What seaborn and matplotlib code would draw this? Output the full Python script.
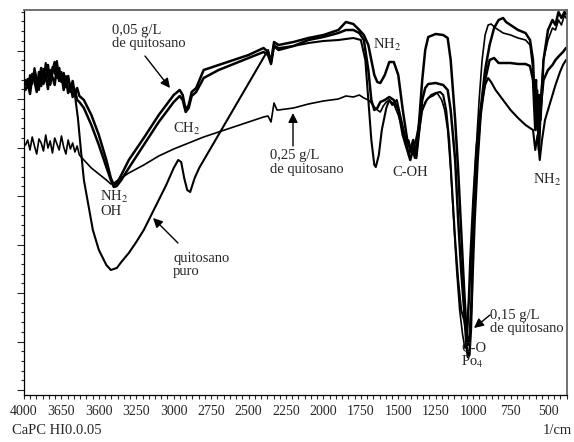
import pandas as pd
import matplotlib
matplotlib.use("Agg")
import matplotlib.pyplot as plt
import seaborn as sns
from matplotlib.ticker import MultipleLocator, AutoMinorLocator

sns.set_style("ticks")
plt.rcParams["font.family"] = ["Liberation Serif", "DejaVu Serif"]
plt.rcParams["mathtext.fontset"] = "stix"

# espectros FTIR (numero de onda en 1/cm, transmitancia en u.a.)
wn_005 = [3990, 3975, 3960, 3945, 3930, 3915, 3900, 3885, 3870, 3855, 3840, 3825, 3810, 3795, 3780, 3765,
          3750, 3735, 3720, 3705, 3690, 3675, 3660, 3645, 3630, 3600, 3550, 3500,
          3450, 3420, 3400, 3380, 3350, 3300, 3200, 3100, 3000, 2960, 2940, 2920, 2900, 2880, 2850, 2800,
          2700, 2600, 2500, 2400, 2370, 2350, 2330, 2300, 2200, 2100, 2000, 1900, 1850, 1800, 1760, 1730,
          1700, 1680, 1660, 1640, 1620, 1590, 1560, 1530, 1500, 1470, 1440, 1420, 1400, 1380, 1360, 1340,
          1320, 1300, 1250, 1200, 1170, 1150, 1120, 1100, 1080, 1060, 1045, 1035, 1025, 1010, 1000, 980,
          950, 920, 890, 860, 830, 800, 780, 750, 700, 650, 620, 600, 590, 580, 570, 560,
          550, 530, 500, 470, 450, 430, 410, 390, 380]
t_005 = [305, 311, 302, 316, 309, 298, 318, 304, 321, 310, 325, 306, 319, 328, 312, 322,
         308, 317, 303, 314, 300, 309, 296, 302, 294, 290, 275, 255,
         230, 212, 205, 207, 215, 230, 252, 275, 295, 300, 295, 280, 285, 298, 302, 320,
         325, 330, 335, 342, 338, 328, 348, 345, 348, 352, 355, 360, 368, 366, 360, 355,
         345, 330, 315, 308, 307, 315, 328, 328, 315, 280, 250, 240, 250, 235, 270, 310,
         340, 353, 356, 355, 352, 330, 270, 220, 160, 100, 60, 45, 50, 90, 160, 220,
         280, 320, 345, 362, 370, 372, 368, 365, 360, 357, 350, 330, 290, 310, 260, 295,
         270, 330, 360, 370, 365, 378, 372, 378, 376]

wn_015 = [3990, 3975, 3960, 3945, 3930, 3915, 3900, 3885, 3870, 3855, 3840, 3825, 3810, 3795, 3780, 3765,
          3750, 3735, 3720, 3705, 3690, 3675, 3660, 3645, 3630, 3600, 3550, 3500,
          3450, 3420, 3400, 3380, 3350, 3300, 3200, 3100, 3000, 2960, 2940, 2920, 2900, 2880, 2850, 2800,
          2700, 2600, 2500, 2400, 2370, 2350, 2330, 2300, 2200, 2100, 2000, 1900, 1850, 1800, 1760, 1730,
          1700, 1680, 1660, 1640, 1620, 1590, 1560, 1530, 1500, 1470, 1440, 1420, 1400, 1380, 1360, 1340,
          1320, 1300, 1250, 1200, 1170, 1150, 1120, 1100, 1080, 1060, 1045, 1035, 1025, 1015, 1005, 990,
          970, 950, 920, 890, 860, 830, 800, 750, 700, 650, 620, 600, 585, 575, 560, 550,
          530, 500, 470, 450, 420, 400, 380]
t_015 = [300, 307, 296, 312, 318, 303, 310, 322, 306, 315, 301, 320, 313, 305, 324, 309,
         316, 300, 311, 297, 306, 293, 300, 290, 288, 282, 265, 245,
         223, 210, 203, 204, 210, 222, 245, 268, 288, 294, 290, 278, 282, 294, 298, 312,
         320, 326, 332, 338, 335, 326, 344, 340, 344, 350, 353, 357, 360, 360, 357, 350,
         320, 290, 280, 282, 288, 290, 293, 290, 280, 255, 240, 230, 242, 232, 260, 290,
         302, 306, 307, 305, 300, 280, 230, 170, 120, 80, 45, 33, 35, 60, 110, 170,
         230, 275, 310, 330, 332, 327, 327, 327, 326, 326, 324, 310, 260, 290, 240, 280,
         310, 320, 325, 330, 335, 338, 342]

wn_025 = [3990, 3975, 3960, 3945, 3930, 3915, 3900, 3885, 3870, 3855, 3840, 3825, 3810, 3795, 3780, 3765,
          3750, 3735, 3720, 3705, 3690, 3675, 3660, 3645, 3630, 3600, 3550, 3500,
          3450, 3420, 3400, 3350, 3300, 3200, 3100, 3000, 2900, 2800, 2700, 2600, 2500, 2400, 2370, 2350,
          2330, 2310, 2300, 2200, 2100, 2000, 1900, 1850, 1800, 1760, 1730, 1700, 1680, 1660, 1640, 1620,
          1600, 1580, 1560, 1530, 1500, 1470, 1450, 1430, 1410, 1390, 1370, 1350, 1320, 1300, 1270, 1240,
          1210, 1190, 1170, 1150, 1130, 1110, 1090, 1070, 1055, 1045, 1035, 1020, 1000, 980, 960, 940,
          920, 900, 880, 850, 800, 750, 700, 650, 620, 600, 585, 570, 560, 550, 530, 500,
          470, 450, 430, 410, 390, 380]
t_025 = [245, 250, 240, 253, 244, 236, 251, 247, 239, 255, 242, 249, 237, 252, 246, 240,
         254, 243, 236, 250, 241, 247, 238, 244, 235, 230, 222, 216,
         210, 206, 207, 212, 217, 225, 234, 241, 247, 253, 258, 263, 268, 273, 274, 268,
         287, 280, 280, 282, 286, 289, 291, 294, 293, 295, 292, 290, 287, 283, 280, 278,
         284, 288, 290, 286, 275, 260, 245, 250, 235, 245, 260, 275, 288, 292, 294, 297,
         290, 280, 260, 220, 170, 120, 80, 55, 42, 45, 65, 110, 180, 240, 290, 330,
         355, 365, 366, 362, 357, 355, 352, 350, 345, 320, 280, 300, 250, 290, 330, 350,
         362, 360, 370, 365, 375, 372]

wn_puro = [3990, 3975, 3960, 3945, 3930, 3915, 3900, 3885, 3870, 3855, 3840, 3825, 3810, 3795, 3780, 3765,
           3750, 3735, 3720, 3705, 3690, 3675, 3660, 3640, 3620, 3600, 3570,
           3540, 3500, 3450, 3420, 3380, 3350, 3300, 3250, 3200, 3150, 3100, 3050, 3000, 2970, 2950, 2930,
           2910, 2890, 2860, 2830, 2370, 2350, 2330, 2300, 2200, 2100, 2000, 1900, 1800, 1750, 1720, 1700,
           1680, 1660, 1650, 1630, 1610, 1580, 1560, 1540, 1510, 1480, 1450, 1430, 1410, 1390, 1370, 1340,
           1310, 1280, 1250, 1220, 1200, 1180, 1160, 1140, 1120, 1100, 1080, 1060, 1050, 1040, 1030, 1020,
           1000, 980, 950, 920, 900, 880, 850, 800, 750, 700, 650, 620, 600, 585, 570, 555,
           540, 520, 500, 470, 450, 420, 400, 380]
t_puro = [310, 302, 315, 306, 322, 311, 300, 317, 308, 327, 313, 305, 323, 316, 329, 310,
          318, 305, 314, 301, 298, 303, 295, 272, 240, 210, 185,
          160, 140, 125, 120, 122, 128, 137, 148, 160, 175, 190, 205, 222, 230, 228, 212,
          200, 198, 212, 222, 340, 328, 345, 342, 344, 347, 349, 350, 352, 350, 330, 290,
          250, 225, 223, 235, 260, 282, 290, 285, 290, 270, 250, 235, 245, 232, 250, 280,
          290, 295, 297, 298, 295, 280, 250, 200, 150, 110, 80, 70, 60, 65, 90, 130,
          190, 240, 280, 305, 312, 308, 300, 290, 280, 272, 265, 262, 260, 240, 255, 230,
          250, 270, 280, 295, 305, 318, 325, 330]

muestras = ["0,05 g/L", "0,15 g/L", "0,25 g/L", "quitosano puro"]
grosores = [1.8, 1.8, 1.2, 1.5]

frames = []
for nombre, wn, t in zip(muestras, [wn_005, wn_015, wn_025, wn_puro], [t_005, t_015, t_025, t_puro]):
    frames.append(pd.DataFrame({"wn": wn, "T": t, "muestra": nombre}))
df = pd.concat(frames, ignore_index=True)

fig = plt.figure(figsize=(5.74, 4.42), dpi=100)
ax = fig.add_axes([24 / 574, 47 / 442, 543 / 574, 385 / 442])

for nombre, lw in zip(muestras, grosores):
    sns.lineplot(data=df[df["muestra"] == nombre], x="wn", y="T", color="black",
                 linewidth=lw, estimator=None, ax=ax)

ax.set_xlim(4000, 373)
ax.set_ylim(-5, 380)
ax.set_xticks([4000, 3750, 3500, 3250, 3000, 2750, 2500, 2250, 2000, 1750, 1500, 1250, 1000, 750, 500])
ax.set_xticklabels(["4000", "3650", "3600", "3250", "3000", "2750", "2500", "2250", "2000",
                    "1750", "1500", "1250", "1000", "750", "500"], fontsize=10)
ax.xaxis.set_minor_locator(AutoMinorLocator(6))
ax.yaxis.set_major_locator(MultipleLocator(48.5))
ax.yaxis.set_minor_locator(MultipleLocator(9.7))
ax.tick_params(axis="x", which="both", direction="out", length=3, width=0.8, pad=4)
ax.tick_params(axis="y", which="major", direction="out", length=5, width=0.8, labelleft=False)
ax.tick_params(axis="y", which="minor", direction="out", length=2.5, width=0.8)
ax.set_xlabel("")
ax.set_ylabel("")
for s in ["left", "bottom"]:
    ax.spines[s].set_color("black")
    ax.spines[s].set_linewidth(0.9)
for s in ["top", "right"]:
    ax.spines[s].set_color("#666666")
    ax.spines[s].set_linewidth(1.3)


def px(x, y):
    # posicion en pixeles de la figura -> coordenadas de datos
    return 4000 - (x - 24) * (4000 - 373) / 543, 390 - y


fs = 10.5
flecha = dict(arrowstyle="-|>", color="black", lw=1.0, mutation_scale=14, shrinkA=0, shrinkB=0)

ax.text(*px(112, 24), "0,05 g/L\nde quitosano", ha="left", va="top", fontsize=fs, linespacing=1.05)
ax.annotate("", xy=px(170, 88), xytext=px(145, 56), arrowprops=flecha)
ax.text(*px(173, 121), "CH$_2$", ha="left", va="top", fontsize=fs)
ax.text(*px(100, 189), "NH$_2$\nOH", ha="left", va="top", fontsize=fs, linespacing=0.95)
ax.text(*px(173, 252), "quitosano\npuro", ha="left", va="top", fontsize=fs, linespacing=1.05)
ax.annotate("", xy=px(153, 218), xytext=px(178, 243), arrowprops=flecha)
ax.text(*px(270, 149), "0,25 g/L\nde quitosano", ha="left", va="top", fontsize=fs, linespacing=1.05)
ax.annotate("", xy=px(293, 113), xytext=px(293, 146), arrowprops=flecha)
ax.text(*px(373, 37), "NH$_2$", ha="left", va="top", fontsize=fs)
ax.text(*px(392, 166), "C-OH", ha="left", va="top", fontsize=fs)
ax.text(*px(533, 172), "NH$_2$", ha="left", va="top", fontsize=fs)
ax.text(*px(490, 309), "0,15 g/L\nde quitosano", ha="left", va="top", fontsize=fs, linespacing=1.0)
ax.annotate("", xy=px(474, 328), xytext=px(490, 315), arrowprops=flecha)
ax.text(*px(461, 342), "C-O\nPo$_4$", ha="left", va="top", fontsize=fs, linespacing=0.95)

fig.text(12 / 574, 1 - 431 / 442, "CaPC HI0.0.05", ha="left", va="center", fontsize=fs)
fig.text(572 / 574, 1 - 431 / 442, "1/cm", ha="right", va="center", fontsize=fs)

fig.savefig("out.png", dpi=100)
